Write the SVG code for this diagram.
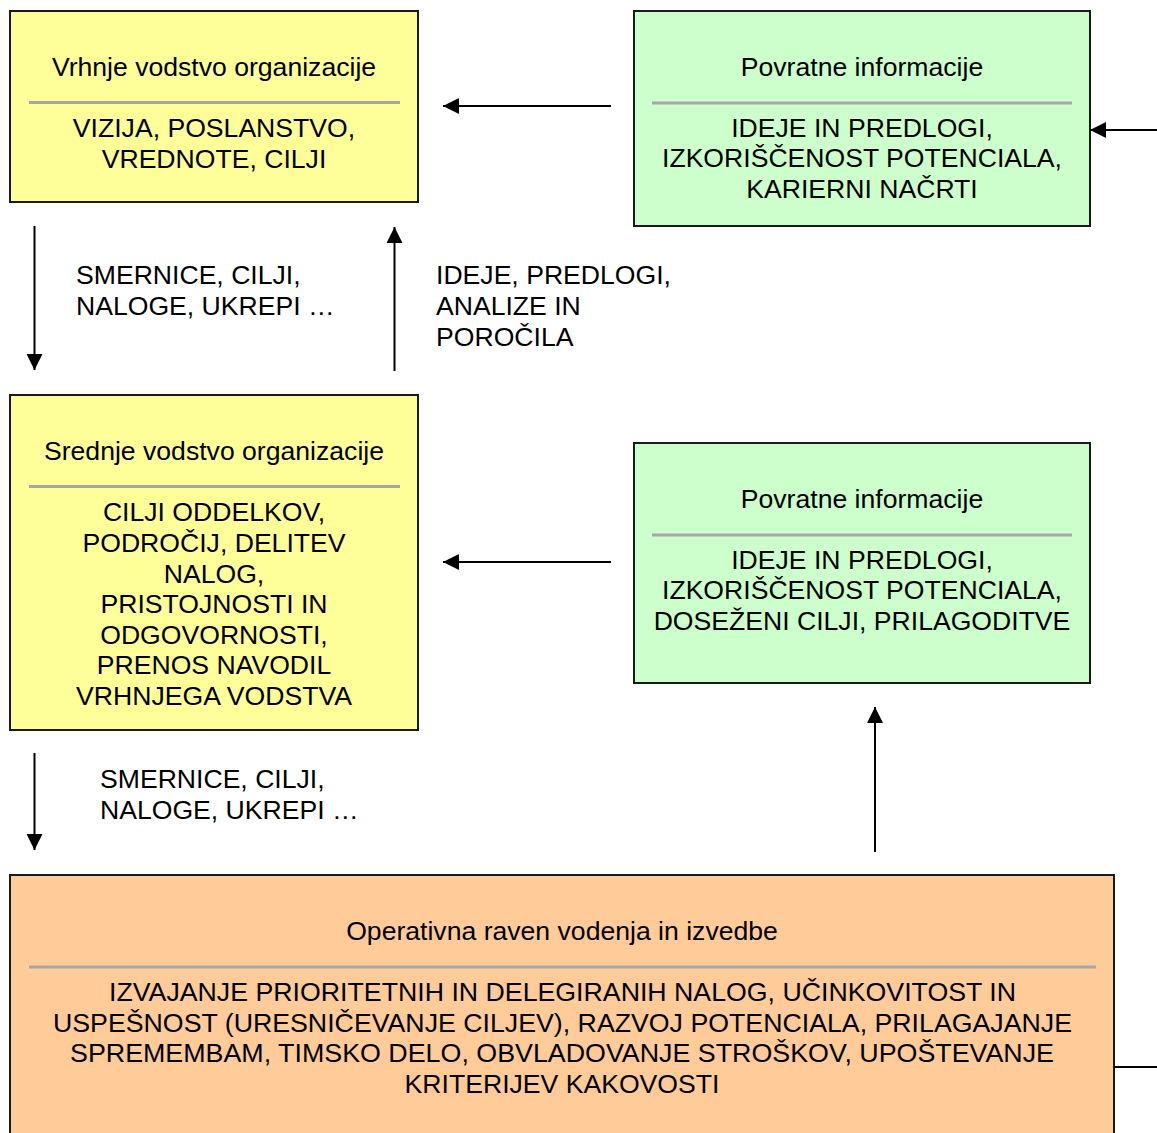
<svg xmlns="http://www.w3.org/2000/svg" width="1157" height="1133" viewBox="0 0 1157 1133">
<style>
  text { font-family: "Liberation Sans", Arial, sans-serif; font-size: 26.6px; fill: #000; }
  .c { text-anchor: middle; }
  .box { stroke: #1a1a1a; stroke-width: 2; }
  .yellow { fill: #FFFF99; }
  .green { fill: #CCFFCC; }
  .orange { fill: #FFCC99; }
  .sep { stroke: #A6A6A6; stroke-width: 3; }
  .conn { stroke: #000; stroke-width: 2; fill: none; }
</style>
<defs>
  <marker id="arr" viewBox="0 0 16 16" refX="16" refY="8" markerWidth="16" markerHeight="16" markerUnits="userSpaceOnUse" orient="auto">
    <path d="M0,0 L16,8 L0,16 Z" fill="#000"/>
  </marker>
</defs>
<rect width="1157" height="1133" fill="#fff"/>

<g id="vrhnje">
  <rect class="box yellow" x="10" y="11" width="408" height="191"/>
  <text class="c" x="214" y="76">Vrhnje vodstvo organizacije</text>
  <line class="sep" x1="29" y1="102.5" x2="400" y2="102.5"/>
  <text class="c" x="214" y="137">VIZIJA, POSLANSTVO,</text>
  <text class="c" x="214" y="167.5">VREDNOTE, CILJI</text>
</g>

<g id="povratne1">
  <rect class="box green" x="634" y="11" width="456" height="215"/>
  <text class="c" x="862" y="76">Povratne informacije</text>
  <line class="sep" x1="652" y1="103" x2="1072" y2="103"/>
  <text class="c" x="862" y="137">IDEJE IN PREDLOGI,</text>
  <text class="c" x="862" y="167">IZKORIŠČENOST POTENCIALA,</text>
  <text class="c" x="862" y="197.5">KARIERNI NAČRTI</text>
</g>

<g id="srednje">
  <rect class="box yellow" x="10" y="395" width="408" height="335"/>
  <text class="c" x="214" y="460">Srednje vodstvo organizacije</text>
  <line class="sep" x1="29" y1="486.5" x2="400" y2="486.5"/>
  <text class="c" x="214" y="521">CILJI ODDELKOV,</text>
  <text class="c" x="214" y="551.7">PODROČIJ, DELITEV</text>
  <text class="c" x="214" y="582.5">NALOG,</text>
  <text class="c" x="214" y="613">PRISTOJNOSTI IN</text>
  <text class="c" x="214" y="643.7">ODGOVORNOSTI,</text>
  <text class="c" x="214" y="674.4">PRENOS NAVODIL</text>
  <text class="c" x="214" y="705">VRHNJEGA VODSTVA</text>
</g>

<g id="povratne2">
  <rect class="box green" x="634" y="443" width="456" height="240"/>
  <text class="c" x="862" y="507.5">Povratne informacije</text>
  <line class="sep" x1="652" y1="535" x2="1072" y2="535"/>
  <text class="c" x="862" y="568.5">IDEJE IN PREDLOGI,</text>
  <text class="c" x="862" y="599">IZKORIŠČENOST POTENCIALA,</text>
  <text class="c" x="862" y="629.5">DOSEŽENI CILJI, PRILAGODITVE</text>
</g>

<g id="operativna">
  <rect class="box orange" x="10" y="875" width="1104" height="270"/>
  <text class="c" x="562" y="940">Operativna raven vodenja in izvedbe</text>
  <line class="sep" x1="29" y1="967" x2="1096" y2="967"/>
  <text class="c" x="562.5" y="1000.5" textLength="907" lengthAdjust="spacingAndGlyphs">IZVAJANJE PRIORITETNIH IN DELEGIRANIH NALOG, UČINKOVITOST IN</text>
  <text class="c" x="562.5" y="1031.5" textLength="1019" lengthAdjust="spacingAndGlyphs">USPEŠNOST (URESNIČEVANJE CILJEV), RAZVOJ POTENCIALA, PRILAGAJANJE</text>
  <text class="c" x="562" y="1062" textLength="984" lengthAdjust="spacingAndGlyphs">SPREMEMBAM, TIMSKO DELO, OBVLADOVANJE STROŠKOV, UPOŠTEVANJE</text>
  <text class="c" x="562" y="1093">KRITERIJEV KAKOVOSTI</text>
</g>

<g id="connectors">
  <line class="conn" x1="611" y1="106" x2="443" y2="106" marker-end="url(#arr)"/>
  <line class="conn" x1="1157" y1="130" x2="1090" y2="130" marker-end="url(#arr)"/>
  <line class="conn" x1="34.5" y1="226" x2="34.5" y2="370" marker-end="url(#arr)"/>
  <line class="conn" x1="394.5" y1="371" x2="394.5" y2="227" marker-end="url(#arr)"/>
  <line class="conn" x1="611" y1="562" x2="443" y2="562" marker-end="url(#arr)"/>
  <line class="conn" x1="34.5" y1="753" x2="34.5" y2="850" marker-end="url(#arr)"/>
  <line class="conn" x1="875" y1="852" x2="875" y2="707" marker-end="url(#arr)"/>
  <line class="conn" x1="1114" y1="1067" x2="1157" y2="1067"/>
</g>

<g id="labels">
  <text x="76" y="284">SMERNICE, CILJI,</text>
  <text x="76" y="315">NALOGE, UKREPI …</text>
  <text x="436" y="284">IDEJE, PREDLOGI,</text>
  <text x="436" y="315">ANALIZE IN</text>
  <text x="436" y="345.5">POROČILA</text>
  <text x="100" y="788">SMERNICE, CILJI,</text>
  <text x="100" y="819">NALOGE, UKREPI …</text>
</g>
</svg>
